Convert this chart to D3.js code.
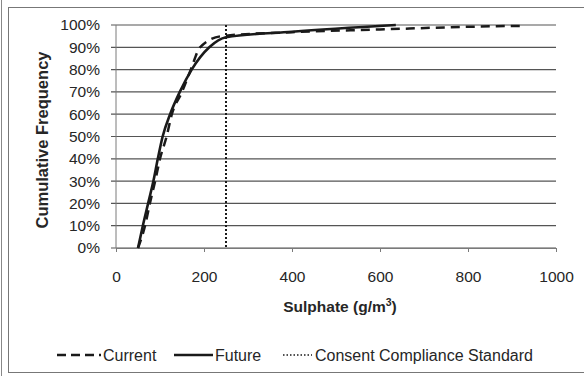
<!DOCTYPE html>
<html><head><meta charset="utf-8">
<script src="https://cdn.jsdelivr.net/npm/d3@7"></script>
<style>body{margin:0;background:#fff;} svg{display:block;}</style>
</head><body>
<svg id="c" width="584" height="376"></svg>
<script>
const xTicks = [0, 200, 400, 600, 800, 1000];
const yTicks = [0, 10, 20, 30, 40, 50, 60, 70, 80, 90, 100];
const currentX = [50, 66, 77, 89, 100, 115, 127, 150, 170, 191, 240, 400, 600, 800, 918];
const currentY = [0, 10, 20, 30, 40, 50, 60, 70, 80, 90, 95, 96.8, 98, 99.2, 99.6];
const futureX = [50, 61, 73, 85, 95, 106, 123, 145, 172, 212, 250, 400, 636];
const futureY = [0, 10, 20, 30, 40, 50, 60, 70, 80, 90, 94.5, 97, 100];
const standardX = 250;
const legendLabels = ["Current", "Future", "Consent Compliance Standard"];

const svg = d3.select("#c");
const font = "'Liberation Sans', Arial, sans-serif";
const ink = "#262626";

// frame
svg.append("rect").attr("x", 8.5).attr("y", 7.5).attr("width", 590).attr("height", 365)
  .attr("fill", "none").attr("stroke", "#777").attr("stroke-width", 1);
svg.append("line").attr("x1", 1.5).attr("x2", 1.5).attr("y1", 0).attr("y2", 376)
  .attr("stroke", "#888").attr("stroke-width", 1);

const x = d3.scaleLinear().domain([0, 1000]).range([116, 556]);
const y = d3.scaleLinear().domain([0, 100]).range([248, 25]);

// gridlines
svg.append("g").selectAll("line").data(yTicks).join("line")
  .attr("x1", 111).attr("x2", 556)
  .attr("y1", d => y(d)).attr("y2", d => y(d))
  .attr("stroke", "#555").attr("stroke-width", 1.2);

// y axis line
svg.append("line").attr("x1", 116).attr("x2", 116).attr("y1", 25).attr("y2", 248)
  .attr("stroke", "#7a7a7a").attr("stroke-width", 1);

// y tick labels
const yAxis = d3.axisLeft(y).tickValues(yTicks).tickSize(0).tickPadding(16)
  .tickFormat(d => d + "%");
const gy = svg.append("g").attr("transform", "translate(116,0)").call(yAxis);
gy.select(".domain").remove();
gy.selectAll("text").attr("font-family", font).attr("font-size", 15.5).attr("fill", ink);

// x axis
const xAxis = d3.axisBottom(x).tickValues(xTicks).tickSize(4).tickPadding(19)
  .tickFormat(d3.format("d"));
const gx = svg.append("g").attr("transform", "translate(0,248)").call(xAxis);
gx.select(".domain").attr("stroke", "#7a7a7a");
gx.selectAll(".tick line").attr("stroke", "#7a7a7a");
gx.selectAll("text").attr("font-family", font).attr("font-size", 15.5).attr("fill", ink);

// standard line
svg.append("line").attr("x1", x(standardX)).attr("x2", x(standardX))
  .attr("y1", y(100)).attr("y2", y(0))
  .attr("stroke", "#1a1a1a").attr("stroke-width", 2).attr("stroke-dasharray", "2,2");

const line = d3.line().x(d => x(d[0])).y(d => y(d[1])).curve(d3.curveMonotoneX);
svg.append("path").datum(currentX.map((v, i) => [v, currentY[i]]))
  .attr("d", line).attr("fill", "none").attr("stroke", "#1a1a1a")
  .attr("stroke-width", 2.5).attr("stroke-dasharray", "9,6");
svg.append("path").datum(futureX.map((v, i) => [v, futureY[i]]))
  .attr("d", line).attr("fill", "none").attr("stroke", "#1a1a1a")
  .attr("stroke-width", 2.6);

// axis titles
svg.append("text").attr("transform", "translate(48,140) rotate(-90)")
  .attr("text-anchor", "middle").attr("font-family", font).attr("font-weight", "bold")
  .attr("font-size", 16.5).attr("fill", ink).text("Cumulative Frequency");
const xt = svg.append("text").attr("x", 340).attr("y", 312)
  .attr("text-anchor", "middle").attr("font-family", font).attr("font-weight", "bold")
  .attr("font-size", 15.5).attr("fill", ink);
xt.append("tspan").text("Sulphate (g/m");
xt.append("tspan").attr("font-size", 10.5).attr("dy", -6).text("3");
xt.append("tspan").attr("dy", 6).text(")");

// legend
const legend = [
  {x1: 57, x2: 101, dash: "9,5", w: 2.5, tx: 103},
  {x1: 174, x2: 213, dash: null, w: 2.6, tx: 215},
  {x1: 283, x2: 312, dash: "1.5,2", w: 1.5, tx: 315}
];
const ly = 355;
legend.forEach((l, i) => {
  svg.append("line").attr("x1", l.x1).attr("x2", l.x2).attr("y1", ly).attr("y2", ly)
    .attr("stroke", "#1a1a1a").attr("stroke-width", l.w)
    .attr("stroke-dasharray", l.dash);
  svg.append("text").attr("x", l.tx).attr("y", ly + 5.5).attr("font-family", font)
    .attr("font-size", 16).attr("fill", ink).text(legendLabels[i]);
});
</script>
</body></html>
